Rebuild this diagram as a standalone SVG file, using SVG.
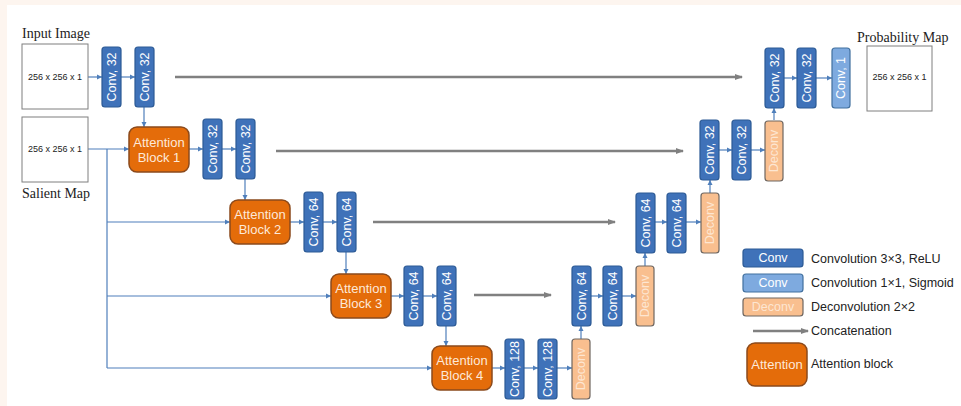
<svg xmlns="http://www.w3.org/2000/svg" width="961" height="406" viewBox="0 0 961 406">
<defs>
<style>
.conv{fill:#3f72b9;stroke:#2c5a95;stroke-width:1.2}
.conv1{fill:#7eaadf;stroke:#41709f;stroke-width:1.2}
.deconv{fill:#f9bf8f;stroke:#6e6660;stroke-width:1.2}
.att{fill:#e46c0a;stroke:#8b4a1c;stroke-width:1.5}
.io{fill:#fff;stroke:#7f7f7f;stroke-width:1}
.lbl{font-family:"Liberation Sans",Arial,sans-serif;font-size:12.5px;fill:#fff;text-anchor:middle;dominant-baseline:central}
.dlbl{font-family:"Liberation Sans",Arial,sans-serif;font-size:12.5px;fill:#fde6d2;text-anchor:middle;dominant-baseline:central}
.albl{font-family:"Liberation Sans",Arial,sans-serif;font-size:13px;fill:#fde9d9;text-anchor:middle;dominant-baseline:central}
.dim{font-family:"Liberation Sans",Arial,sans-serif;font-size:9px;fill:#222;text-anchor:middle;dominant-baseline:central}
.title{font-family:"Liberation Serif","Times New Roman",serif;font-size:14px;fill:#222}
.leg{font-family:"Liberation Sans",Arial,sans-serif;font-size:12.5px;fill:#222;dominant-baseline:central}
.b{stroke:#4f7fbb;stroke-width:1.2;fill:none}
.ba{stroke:#4f7fbb;stroke-width:1.2;fill:none;marker-end:url(#ab)}
.g{stroke:#808080;stroke-width:2.5;fill:none;marker-end:url(#ag)}
</style>
<marker id="ab" markerWidth="6" markerHeight="6" refX="5" refY="3" orient="auto" markerUnits="userSpaceOnUse"><path d="M0,0.5 L5,3 L0,5.5 Z" fill="#4f7fbb"/></marker>
<marker id="ag" markerWidth="8" markerHeight="8" refX="7" refY="4" orient="auto" markerUnits="userSpaceOnUse"><path d="M0,1 L8,4 L0,7 Z" fill="#808080"/></marker>
</defs>
<rect x="0" y="0" width="961" height="406" fill="#fdf5ef"/>
<rect x="7" y="5" width="954" height="401" fill="#fff"/>

<g id="connectors">
<line class="ba" x1="88" y1="77" x2="102" y2="77"/>
<line class="ba" x1="120" y1="77" x2="135" y2="77"/>
<line class="ba" x1="144" y1="107" x2="144" y2="127"/>
<line class="ba" x1="88" y1="149" x2="129" y2="149"/>
<polyline class="b" points="107,149 107,368"/>
<line class="ba" x1="107" y1="222" x2="230" y2="222"/>
<line class="ba" x1="107" y1="296" x2="331" y2="296"/>
<line class="ba" x1="107" y1="368" x2="432" y2="368"/>
<line class="ba" x1="189" y1="149" x2="203" y2="149"/>
<line class="ba" x1="222" y1="149" x2="236" y2="149"/>
<line class="ba" x1="245" y1="179" x2="245" y2="200"/>
<line class="ba" x1="290" y1="222" x2="304" y2="222"/>
<line class="ba" x1="323" y1="222" x2="337" y2="222"/>
<line class="ba" x1="346" y1="252" x2="346" y2="274"/>
<line class="ba" x1="391" y1="296" x2="404" y2="296"/>
<line class="ba" x1="423" y1="296" x2="437" y2="296"/>
<line class="ba" x1="446" y1="326" x2="446" y2="346"/>
<line class="ba" x1="492" y1="368" x2="505" y2="368"/>
<line class="ba" x1="524" y1="368" x2="538" y2="368"/>
<line class="ba" x1="557" y1="368" x2="572" y2="368"/>
<line class="ba" x1="581" y1="339" x2="581" y2="326"/>
<line class="ba" x1="591" y1="296" x2="603" y2="296"/>
<line class="ba" x1="622" y1="296" x2="636" y2="296"/>
<line class="ba" x1="645" y1="266" x2="645" y2="253"/>
<line class="ba" x1="655" y1="222" x2="667" y2="222"/>
<line class="ba" x1="686" y1="222" x2="701" y2="222"/>
<line class="ba" x1="710" y1="193" x2="710" y2="180"/>
<line class="ba" x1="719" y1="150" x2="732" y2="150"/>
<line class="ba" x1="751" y1="150" x2="765" y2="150"/>
<line class="ba" x1="774" y1="120" x2="774" y2="108"/>
<line class="ba" x1="784" y1="78" x2="797" y2="78"/>
<line class="ba" x1="816" y1="78" x2="832" y2="78"/>
<line class="g" x1="175" y1="77" x2="742" y2="77"/>
<line class="g" x1="276" y1="151" x2="683" y2="151"/>
<line class="g" x1="373" y1="222" x2="615" y2="222"/>
<line class="g" x1="474" y1="295" x2="551" y2="295"/>
</g>

<g id="input-image">
<text class="title" x="22" y="38">Input Image</text>
<rect class="io" x="22" y="44" width="66" height="65"/>
<text class="dim" x="55" y="77">256 x 256 x 1</text>
</g>
<g id="salient-map">
<rect class="io" x="22" y="117" width="66" height="65"/>
<text class="dim" x="55" y="149">256 x 256 x 1</text>
<text class="title" x="22" y="198">Salient Map</text>
</g>
<g id="probability-map">
<text class="title" x="857" y="42">Probability Map</text>
<rect class="io" x="867" y="46" width="65" height="65"/>
<text class="dim" x="899.5" y="77">256 x 256 x 1</text>
</g>

<g id="enc1a"><rect class="conv" x="102" y="47" width="19" height="60" rx="3"/><text class="lbl" transform="translate(111.5,77) rotate(-90)">Conv, 32</text></g>
<g id="enc1b"><rect class="conv" x="135" y="47" width="19" height="60" rx="3"/><text class="lbl" transform="translate(144.5,77) rotate(-90)">Conv, 32</text></g>

<g id="att1"><rect class="att" x="129" y="127" width="60" height="45" rx="8"/><text class="albl" x="159" y="142">Attention</text><text class="albl" x="159" y="157">Block 1</text></g>
<g id="enc2a"><rect class="conv" x="203" y="119" width="19" height="60" rx="3"/><text class="lbl" transform="translate(212.5,149) rotate(-90)">Conv, 32</text></g>
<g id="enc2b"><rect class="conv" x="236" y="119" width="19" height="60" rx="3"/><text class="lbl" transform="translate(245.5,149) rotate(-90)">Conv, 32</text></g>

<g id="att2"><rect class="att" x="230" y="200" width="60" height="44" rx="8"/><text class="albl" x="260" y="214.5">Attention</text><text class="albl" x="260" y="229.5">Block 2</text></g>
<g id="enc3a"><rect class="conv" x="304" y="192" width="19" height="60" rx="3"/><text class="lbl" transform="translate(313.5,222) rotate(-90)">Conv, 64</text></g>
<g id="enc3b"><rect class="conv" x="337" y="192" width="19" height="60" rx="3"/><text class="lbl" transform="translate(346.5,222) rotate(-90)">Conv, 64</text></g>

<g id="att3"><rect class="att" x="331" y="274" width="60" height="44" rx="8"/><text class="albl" x="361" y="288.5">Attention</text><text class="albl" x="361" y="303.5">Block 3</text></g>
<g id="enc4a"><rect class="conv" x="404" y="266" width="19" height="60" rx="3"/><text class="lbl" transform="translate(413.5,296) rotate(-90)">Conv, 64</text></g>
<g id="enc4b"><rect class="conv" x="437" y="266" width="19" height="60" rx="3"/><text class="lbl" transform="translate(446.5,296) rotate(-90)">Conv, 64</text></g>

<g id="att4"><rect class="att" x="432" y="346" width="60" height="44" rx="8"/><text class="albl" x="462" y="360.5">Attention</text><text class="albl" x="462" y="375.5">Block 4</text></g>
<g id="bot1"><rect class="conv" x="505" y="339" width="19" height="60" rx="3"/><text class="lbl" transform="translate(514.5,369) rotate(-90)">Conv, 128</text></g>
<g id="bot2"><rect class="conv" x="538" y="339" width="19" height="60" rx="3"/><text class="lbl" transform="translate(547.5,369) rotate(-90)">Conv, 128</text></g>
<g id="deconv4"><rect class="deconv" x="572" y="339" width="18" height="60" rx="3"/><text class="dlbl" transform="translate(581,369) rotate(-90)">Deconv</text></g>

<g id="dec4a"><rect class="conv" x="572" y="266" width="19" height="60" rx="3"/><text class="lbl" transform="translate(581.5,296) rotate(-90)">Conv, 64</text></g>
<g id="dec4b"><rect class="conv" x="603" y="266" width="19" height="60" rx="3"/><text class="lbl" transform="translate(612.5,296) rotate(-90)">Conv, 64</text></g>
<g id="deconv3"><rect class="deconv" x="636" y="266" width="18" height="60" rx="3"/><text class="dlbl" transform="translate(645,296) rotate(-90)">Deconv</text></g>

<g id="dec3a"><rect class="conv" x="636" y="193" width="19" height="60" rx="3"/><text class="lbl" transform="translate(645.5,223) rotate(-90)">Conv, 64</text></g>
<g id="dec3b"><rect class="conv" x="667" y="193" width="19" height="60" rx="3"/><text class="lbl" transform="translate(676.5,223) rotate(-90)">Conv, 64</text></g>
<g id="deconv2"><rect class="deconv" x="701" y="193" width="18" height="60" rx="3"/><text class="dlbl" transform="translate(710,223) rotate(-90)">Deconv</text></g>

<g id="dec2a"><rect class="conv" x="700" y="120" width="19" height="60" rx="3"/><text class="lbl" transform="translate(709.5,150) rotate(-90)">Conv, 32</text></g>
<g id="dec2b"><rect class="conv" x="732" y="120" width="19" height="60" rx="3"/><text class="lbl" transform="translate(741.5,150) rotate(-90)">Conv, 32</text></g>
<g id="deconv1"><rect class="deconv" x="765" y="121" width="18" height="60" rx="3"/><text class="dlbl" transform="translate(774,151) rotate(-90)">Deconv</text></g>

<g id="dec1a"><rect class="conv" x="765" y="48" width="19" height="60" rx="3"/><text class="lbl" transform="translate(774.5,78) rotate(-90)">Conv, 32</text></g>
<g id="dec1b"><rect class="conv" x="797" y="48" width="19" height="60" rx="3"/><text class="lbl" transform="translate(806.5,78) rotate(-90)">Conv, 32</text></g>
<g id="out"><rect class="conv1" x="832" y="48" width="18" height="60" rx="3"/><text class="lbl" transform="translate(841,78) rotate(-90)">Conv, 1</text></g>

<g id="legend">
<rect class="conv" x="743" y="249" width="60" height="18" rx="3"/><text class="lbl" x="773" y="258">Conv</text><text class="leg" x="811" y="259">Convolution 3×3, ReLU</text>
<rect class="conv1" x="743" y="274" width="60" height="18" rx="3"/><text class="lbl" x="773" y="283">Conv</text><text class="leg" x="811" y="283">Convolution 1×1, Sigmoid</text>
<rect class="deconv" x="743" y="298" width="60" height="18" rx="3"/><text class="dlbl" x="773" y="307">Deconv</text><text class="leg" x="811" y="307">Deconvolution 2×2</text>
<line class="g" x1="753" y1="331" x2="808" y2="331"/><text class="leg" x="811" y="331">Concatenation</text>
<rect class="att" x="747" y="343" width="60" height="43" rx="8"/><text class="albl" x="777" y="364.5">Attention</text><text class="leg" x="811" y="364">Attention block</text>
</g>
</svg>
